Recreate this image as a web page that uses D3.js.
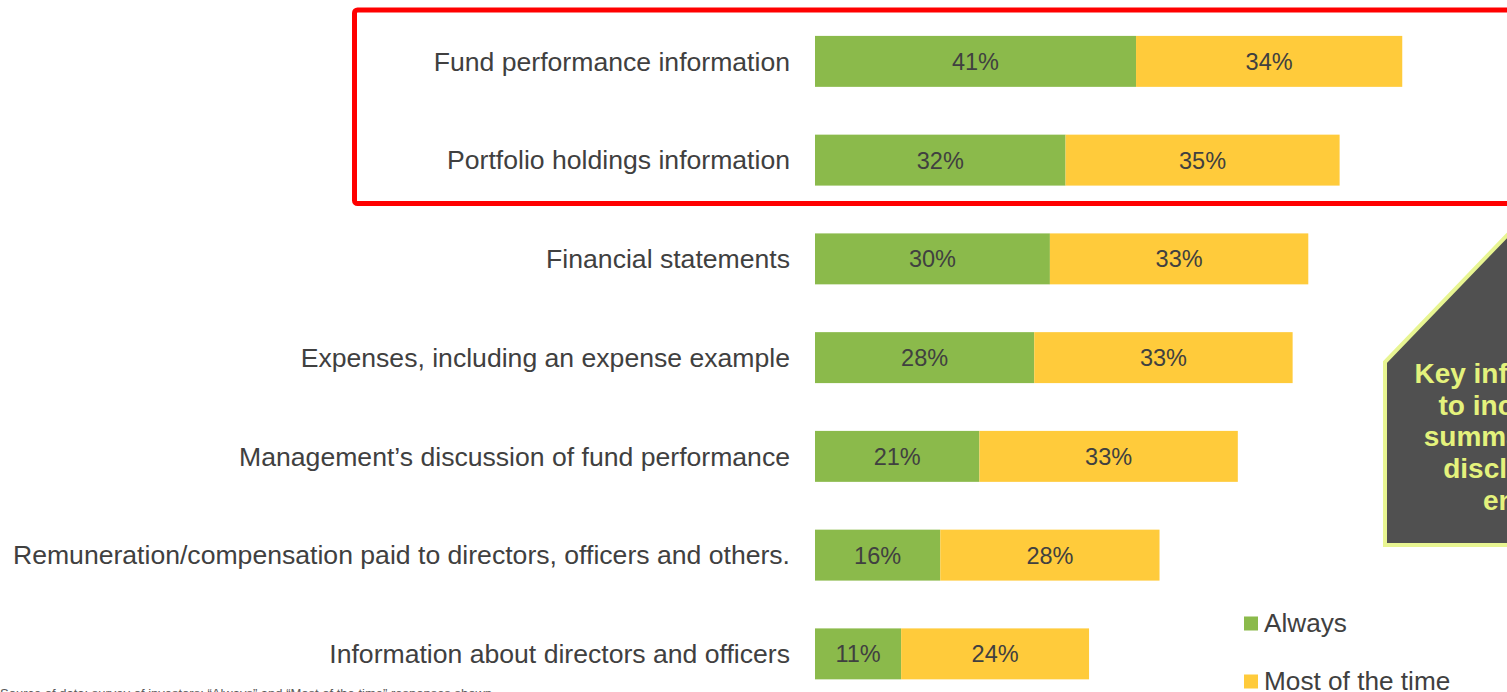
<!DOCTYPE html>
<html>
<head>
<meta charset="utf-8">
<script src="https://cdn.jsdelivr.net/npm/d3@7"></script>
<style>
  html, body { margin: 0; padding: 0; background: #fff; overflow: hidden; }
  svg { display: block; font-family: "Liberation Sans", Arial, sans-serif; }
</style>
</head>
<body>
<svg id="chart" width="1507" height="692"></svg>
<script>
const categories = [
  "Fund performance information",
  "Portfolio holdings information",
  "Financial statements",
  "Expenses, including an expense example",
  "Management’s discussion of fund performance",
  "Remuneration/compensation paid to directors, officers and others.",
  "Information about directors and officers"
];
const always = [41, 32, 30, 28, 21, 16, 11];
const mostOfTheTime = [34, 35, 33, 33, 33, 28, 24];
const seriesNames = ["Always", "Most of the time"];
const seriesColors = ["#8BBA4B", "#FFCB3B"];
const calloutLines = ["Key information", "to include in", "summary form", "disclosures", "entire"];
const footnote = "Source of data: survey of investors; \u201CAlways\u201D and \u201CMost of the time\u201D responses shown";

const svg = d3.select("#chart");
const textColor = "#404040";

const x = d3.scaleLinear().domain([0, 100]).range([815, 1598]);
const y = d3.scaleBand().domain(categories).range([12, 703.25]).paddingInner(0.484).paddingOuter(0.242);

const rows = categories.map((c, i) => ({ cat: c, vals: [always[i], mostOfTheTime[i]] }));

// red highlight rectangle around top two categories
const rTop = y(categories[0]) - 26;
const rBot = y(categories[1]) + y.bandwidth() + 18;
svg.append("rect")
  .attr("x", 354.5).attr("y", rTop)
  .attr("width", 1300).attr("height", rBot - rTop)
  .attr("rx", 3)
  .attr("fill", "none").attr("stroke", "#FF0000").attr("stroke-width", 5);

// bars
const g = svg.append("g");
rows.forEach(r => {
  let acc = 0;
  r.vals.forEach((v, j) => {
    g.append("rect")
      .attr("x", x(acc)).attr("y", y(r.cat))
      .attr("width", x(acc + v) - x(acc)).attr("height", y.bandwidth())
      .attr("fill", seriesColors[j]);
    g.append("text")
      .attr("x", (x(acc) + x(acc + v)) / 2)
      .attr("y", y(r.cat) + y.bandwidth() / 2)
      .attr("dy", "0.36em")
      .attr("text-anchor", "middle")
      .attr("font-size", 23.5)
      .attr("fill", textColor)
      .text(v + "%");
    acc += v;
  });
});

// category labels (axis)
const axis = d3.axisLeft(y).tickSize(0).tickPadding(0);
const ag = svg.append("g").attr("transform", "translate(790,0)").call(axis);
ag.select(".domain").remove();
ag.selectAll("text")
  .attr("font-size", 26.6)
  .attr("font-family", "'Liberation Sans', Arial, sans-serif")
  .attr("fill", textColor)
  .attr("dy", "0.35em");

// callout shape
const callout = svg.append("g");
callout.append("path")
  .attr("d", "M1385,545 L1385,362 L1620,118 L1700,118 L1700,545 Z")
  .attr("fill", "#505050")
  .attr("stroke", "#E8F592")
  .attr("stroke-width", 4)
  .attr("stroke-linejoin", "miter");
callout.selectAll("text.cl").data(calloutLines).join("text")
  .attr("class", "cl")
  .attr("x", 1521)
  .attr("y", (d, i) => 383 + i * 31.7)
  .attr("text-anchor", "middle")
  .attr("font-size", 28)
  .attr("font-weight", "bold")
  .attr("fill", "#E4F27C")
  .text(d => d);

// legend
const lg = svg.append("g");
seriesNames.forEach((s, i) => {
  const ly = 623 + i * 58;
  lg.append("rect").attr("x", 1244).attr("y", ly - 6.5).attr("width", 14).attr("height", 14).attr("fill", seriesColors[i]);
  lg.append("text").attr("x", 1264).attr("y", ly).attr("dy", "0.35em")
    .attr("font-size", 26.2).attr("fill", textColor).text(s);
});

// footnote (mostly cut off at bottom)
svg.append("text").attr("x", 0).attr("y", 697.5).attr("font-size", 13).attr("fill", "#595959").text(footnote);
</script>
</body>
</html>
